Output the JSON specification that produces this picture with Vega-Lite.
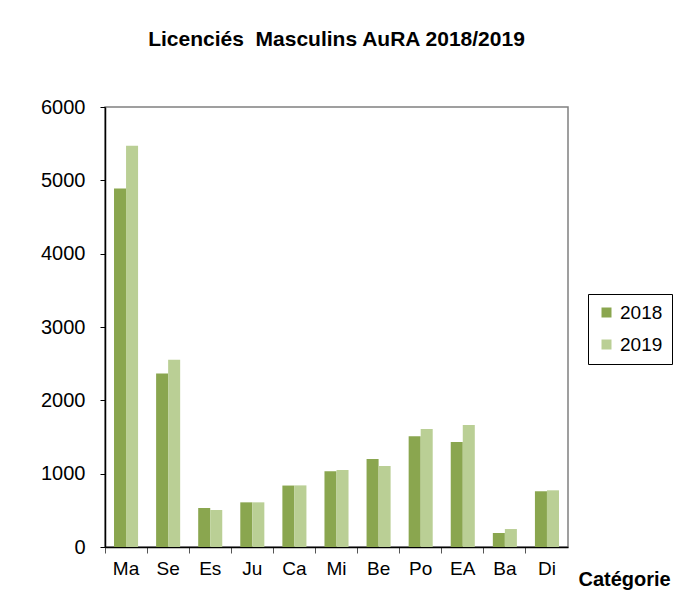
{
  "$schema": "https://vega.github.io/schema/vega-lite/v6.json",
  "autosize": "none",
  "width": 463,
  "height": 440,
  "padding": {"left": 105, "top": 107, "right": 109, "bottom": 62},
  "background": "white",
  "title": {
    "text": "Licenciés \u00a0Masculins AuRA 2018/2019",
    "font": "Liberation Sans",
    "fontSize": 21,
    "fontWeight": "bold",
    "color": "black",
    "anchor": "middle",
    "offset": 47
  },
  "config": {
    "font": "Liberation Sans",
    "view": {"stroke": "#808080", "strokeWidth": 1.5}
  },
  "data": {
    "values": [
      {"cat": "Ma", "year": "2018", "value": 4890},
      {"cat": "Ma", "year": "2019", "value": 5470},
      {"cat": "Se", "year": "2018", "value": 2365},
      {"cat": "Se", "year": "2019", "value": 2555},
      {"cat": "Es", "year": "2018", "value": 532},
      {"cat": "Es", "year": "2019", "value": 505},
      {"cat": "Ju", "year": "2018", "value": 609},
      {"cat": "Ju", "year": "2019", "value": 609},
      {"cat": "Ca", "year": "2018", "value": 838},
      {"cat": "Ca", "year": "2019", "value": 840},
      {"cat": "Mi", "year": "2018", "value": 1032},
      {"cat": "Mi", "year": "2019", "value": 1050},
      {"cat": "Be", "year": "2018", "value": 1200},
      {"cat": "Be", "year": "2019", "value": 1105},
      {"cat": "Po", "year": "2018", "value": 1509},
      {"cat": "Po", "year": "2019", "value": 1609},
      {"cat": "EA", "year": "2018", "value": 1432},
      {"cat": "EA", "year": "2019", "value": 1664},
      {"cat": "Ba", "year": "2018", "value": 191},
      {"cat": "Ba", "year": "2019", "value": 245},
      {"cat": "Di", "year": "2018", "value": 760},
      {"cat": "Di", "year": "2019", "value": 773}
    ]
  },
  "mark": {"type": "bar"},
  "encoding": {
    "x": {
      "field": "cat",
      "type": "nominal",
      "sort": ["Ma", "Se", "Es", "Ju", "Ca", "Mi", "Be", "Po", "EA", "Ba", "Di"],
      "scale": {"paddingInner": 0, "paddingOuter": 0},
      "axis": {
        "title": "Catégorie",
        "titleFontSize": 20,
        "titleFontWeight": "bold",
        "titleColor": "black",
        "titleAnchor": "start",
        "titleAlign": "left",
        "titleBaseline": "middle",
        "titleX": 473,
        "titleY": 32,
        "labelAngle": 0,
        "labelFontSize": 19,
        "labelColor": "black",
        "labelPadding": 6,
        "bandPosition": 0,
        "tickSize": 6,
        "tickColor": "#555555",
        "domainColor": "black",
        "domainWidth": 1.5
      }
    },
    "xOffset": {
      "field": "year",
      "type": "nominal",
      "scale": {"paddingInner": 0, "paddingOuter": 0.75}
    },
    "y": {
      "field": "value",
      "type": "quantitative",
      "scale": {"domain": [0, 6000], "nice": false},
      "axis": {
        "title": null,
        "values": [0, 1000, 2000, 3000, 4000, 5000, 6000],
        "format": "d",
        "grid": false,
        "labelFontSize": 20,
        "labelColor": "black",
        "labelPadding": 15,
        "tickSize": 5,
        "tickColor": "black",
        "domainColor": "black",
        "domainWidth": 1.5
      }
    },
    "color": {
      "field": "year",
      "type": "nominal",
      "scale": {"domain": ["2018", "2019"], "range": ["#8AA64F", "#BACF95"]},
      "legend": {
        "title": null,
        "orient": "none",
        "legendX": 483,
        "legendY": 187,
        "symbolType": "square",
        "symbolSize": 100,
        "symbolStrokeWidth": 0,
        "labelFontSize": 19,
        "labelColor": "black",
        "rowPadding": 12,
        "padding": 9,
        "strokeColor": "black",
        "fillColor": "white"
      }
    }
  }
}
